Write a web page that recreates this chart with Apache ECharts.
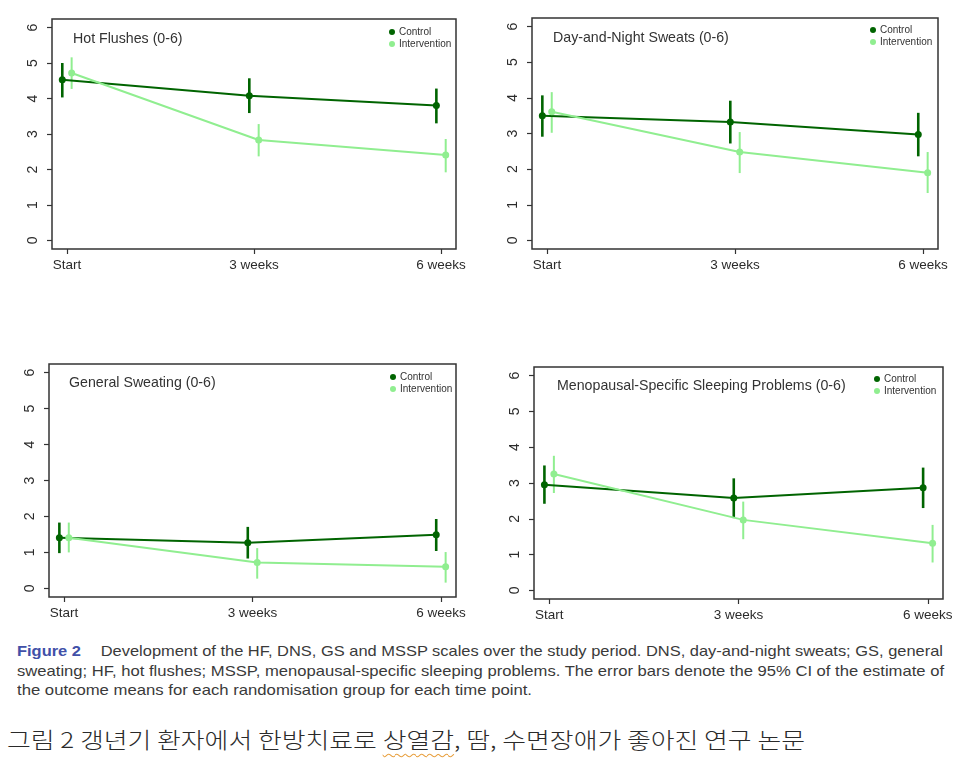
<!DOCTYPE html>
<html><head><meta charset="utf-8">
<script src="https://cdn.jsdelivr.net/npm/echarts@6/dist/echarts.min.js"></script>
<style>
html,body{margin:0;padding:0;background:#fff;width:966px;height:758px;overflow:hidden;}
#chart{position:absolute;left:0;top:0;width:966px;height:630px;}
.cap{position:absolute;white-space:nowrap;font-family:"Liberation Sans",Arial,sans-serif;font-size:15px;color:#3a3a3a;transform-origin:0 50%;line-height:20px;}
.fig{color:#4150a8;font-weight:bold;}
.ko{position:absolute;white-space:nowrap;font-family:"Noto Sans CJK KR",sans-serif;font-size:22px;color:#2a2a2a;transform-origin:0 50%;line-height:30px;font-weight:300;}
.sp{text-decoration:underline wavy #e8a040;text-decoration-thickness:1px;text-underline-offset:5px;}
</style></head><body>
<div id="chart"></div>
<div class="cap" data-x="17" data-y="651" data-w="926"><span class="fig">Figure 2</span><span style="display:inline-block;width:18px"></span>Development of the HF, DNS, GS and MSSP scales over the study period. DNS, day-and-night sweats; GS, general</div>
<div class="cap" data-x="17" data-y="671" data-w="927">sweating; HF, hot flushes; MSSP, menopausal-specific sleeping problems. The error bars denote the 95% CI of the estimate of</div>
<div class="cap" data-x="17" data-y="690" data-w="515">the outcome means for each randomisation group for each time point.</div>
<div class="ko" data-x="7" data-y="738" data-w="798">그림 2 갱년기 환자에서 한방치료로 <span class="sp">상열감</span>, 땀, 수면장애가 좋아진 연구 논문</div>
<script>
// ---- data ----
const weeks = [0, 3, 6];
const timeLabels = ['Start', '3 weeks', '6 weeks'];
const yTicks = [0, 1, 2, 3, 4, 5, 6];
const panelTitles = ['Hot Flushes (0-6)', 'Day-and-Night Sweats (0-6)', 'General Sweating (0-6)', 'Menopausal-Specific Sleeping Problems (0-6)'];
const groupNames = ['Control', 'Intervention'];

const hfControl = [4.53, 4.08, 3.80];
const hfControlLo = [4.03, 3.59, 3.30];
const hfControlHi = [5.00, 4.57, 4.28];
const hfInterv = [4.72, 2.83, 2.41];
const hfIntervLo = [4.27, 2.37, 1.92];
const hfIntervHi = [5.16, 3.28, 2.86];

const dnsControl = [3.50, 3.32, 2.97];
const dnsControlLo = [2.91, 2.72, 2.36];
const dnsControlHi = [4.07, 3.92, 3.58];
const dnsInterv = [3.61, 2.48, 1.90];
const dnsIntervLo = [3.02, 1.89, 1.33];
const dnsIntervHi = [4.16, 3.04, 2.48];

const gsControl = [1.41, 1.27, 1.49];
const gsControlLo = [0.98, 0.83, 1.04];
const gsControlHi = [1.83, 1.71, 1.93];
const gsInterv = [1.41, 0.72, 0.60];
const gsIntervLo = [1.00, 0.27, 0.16];
const gsIntervHi = [1.83, 1.12, 1.01];

const msspControl = [2.95, 2.58, 2.87];
const msspControlLo = [2.42, 2.02, 2.30];
const msspControlHi = [3.49, 3.13, 3.43];
const msspInterv = [3.25, 1.97, 1.32];
const msspIntervLo = [2.72, 1.43, 0.78];
const msspIntervHi = [3.76, 2.48, 1.83];

const panelData = [
  [[hfControl, hfControlLo, hfControlHi], [hfInterv, hfIntervLo, hfIntervHi]],
  [[dnsControl, dnsControlLo, dnsControlHi], [dnsInterv, dnsIntervLo, dnsIntervHi]],
  [[gsControl, gsControlLo, gsControlHi], [gsInterv, gsIntervLo, gsIntervHi]],
  [[msspControl, msspControlLo, msspControlHi], [msspInterv, msspIntervLo, msspIntervHi]]
];

// ---- layout / style ----
const layout = [
  {grid: {left: 52, top: 19, width: 404, height: 230}, title: [73, 39], legend: {left: 389, top: 27}},
  {grid: {left: 532, top: 18, width: 406, height: 231}, title: [553, 38], legend: {left: 870, top: 25}},
  {grid: {left: 49, top: 364, width: 407, height: 233}, title: [69, 383], legend: {left: 390, top: 372}},
  {grid: {left: 534, top: 367, width: 409, height: 232}, title: [557, 386], legend: {left: 874, top: 374}}
];
const groupStyle = [
  {color: '#006400', off: -0.075, lineW: 2, barW: 2.6},
  {color: '#90EE90', off: 0.075, lineW: 2, barW: 2}
];
const FONT = '"Liberation Sans", Arial, sans-serif';
const INK = '#2b2b2b';

const grid = [], xAxis = [], yAxis = [], series = [], legend = [], graphic = [];
layout.forEach((L, i) => {
  grid.push(Object.assign({show: true, borderColor: '#333', borderWidth: 1.5, backgroundColor: '#fff'}, L.grid));
  xAxis.push({
    type: 'value', gridIndex: i, min: -0.24, max: 6.24, position: 'bottom',
    axisLine: {show: false, onZero: false}, splitLine: {show: false},
    axisTick: {show: true, customValues: weeks, length: 5, lineStyle: {color: '#333', width: 1.2}},
    axisLabel: {customValues: weeks, formatter: v => timeLabels[weeks.indexOf(v)], fontSize: 13.5, fontFamily: FONT, color: INK, margin: 9}
  });
  yAxis.push({
    type: 'value', gridIndex: i, min: -0.24, max: 6.24, position: 'left',
    axisLine: {show: false, onZero: false}, splitLine: {show: false},
    axisTick: {show: true, customValues: yTicks, length: 5, lineStyle: {color: '#333', width: 1.2}},
    axisLabel: {customValues: yTicks, rotate: 90, fontSize: 14, fontFamily: FONT, color: INK, margin: 12}
  });
  panelData[i].forEach((g, k) => {
    const st = groupStyle[k];
    const [mean, lo, hi] = g;
    series.push({
      type: 'custom', name: groupNames[k] + ' CI', xAxisIndex: i, yAxisIndex: i,
      data: weeks.map((w, j) => [w + st.off, lo[j], hi[j]]),
      encode: {x: 0, y: [1, 2]},
      renderItem: (params, api) => {
        const a = api.coord([api.value(0), api.value(1)]);
        const b = api.coord([api.value(0), api.value(2)]);
        return {type: 'line', shape: {x1: a[0], y1: a[1], x2: b[0], y2: b[1]}, style: {stroke: st.color, lineWidth: st.barW}};
      },
      z: 2
    });
    series.push({
      type: 'line', name: groupNames[k], xAxisIndex: i, yAxisIndex: i,
      data: weeks.map((w, j) => [w + st.off, mean[j]]),
      symbol: 'circle', symbolSize: 7, showSymbol: true,
      itemStyle: {color: st.color}, lineStyle: {color: st.color, width: st.lineW},
      z: 3
    });
  });
  legend.push({
    left: L.legend.left, top: L.legend.top, orient: 'vertical', padding: 0,
    data: groupNames, icon: 'circle', itemWidth: 6, itemHeight: 6, itemGap: 2,
    selectedMode: false,
    textStyle: {fontSize: 10, fontFamily: FONT, color: '#333', padding: [0, 0, 0, -1]}
  });
  graphic.push({
    type: 'text', x: L.title[0], y: L.title[1],
    style: {text: panelTitles[i], fontSize: 14.2, fontFamily: FONT, fill: '#333', verticalAlign: 'middle'}
  });
});

const chart = echarts.init(document.getElementById('chart'), null, {renderer: 'canvas'});
chart.setOption({animation: false, backgroundColor: '#fff', grid, xAxis, yAxis, series, legend, graphic});

// fit caption lines to measured widths
document.querySelectorAll('.cap, .ko').forEach(el => {
  const x = +el.dataset.x, y = +el.dataset.y, w = +el.dataset.w;
  el.style.left = x + 'px';
  const r = el.getBoundingClientRect();
  el.style.top = (y - r.height / 2) + 'px';
  el.style.transform = 'scaleX(' + (w / r.width) + ')';
});
</script>
</body></html>
